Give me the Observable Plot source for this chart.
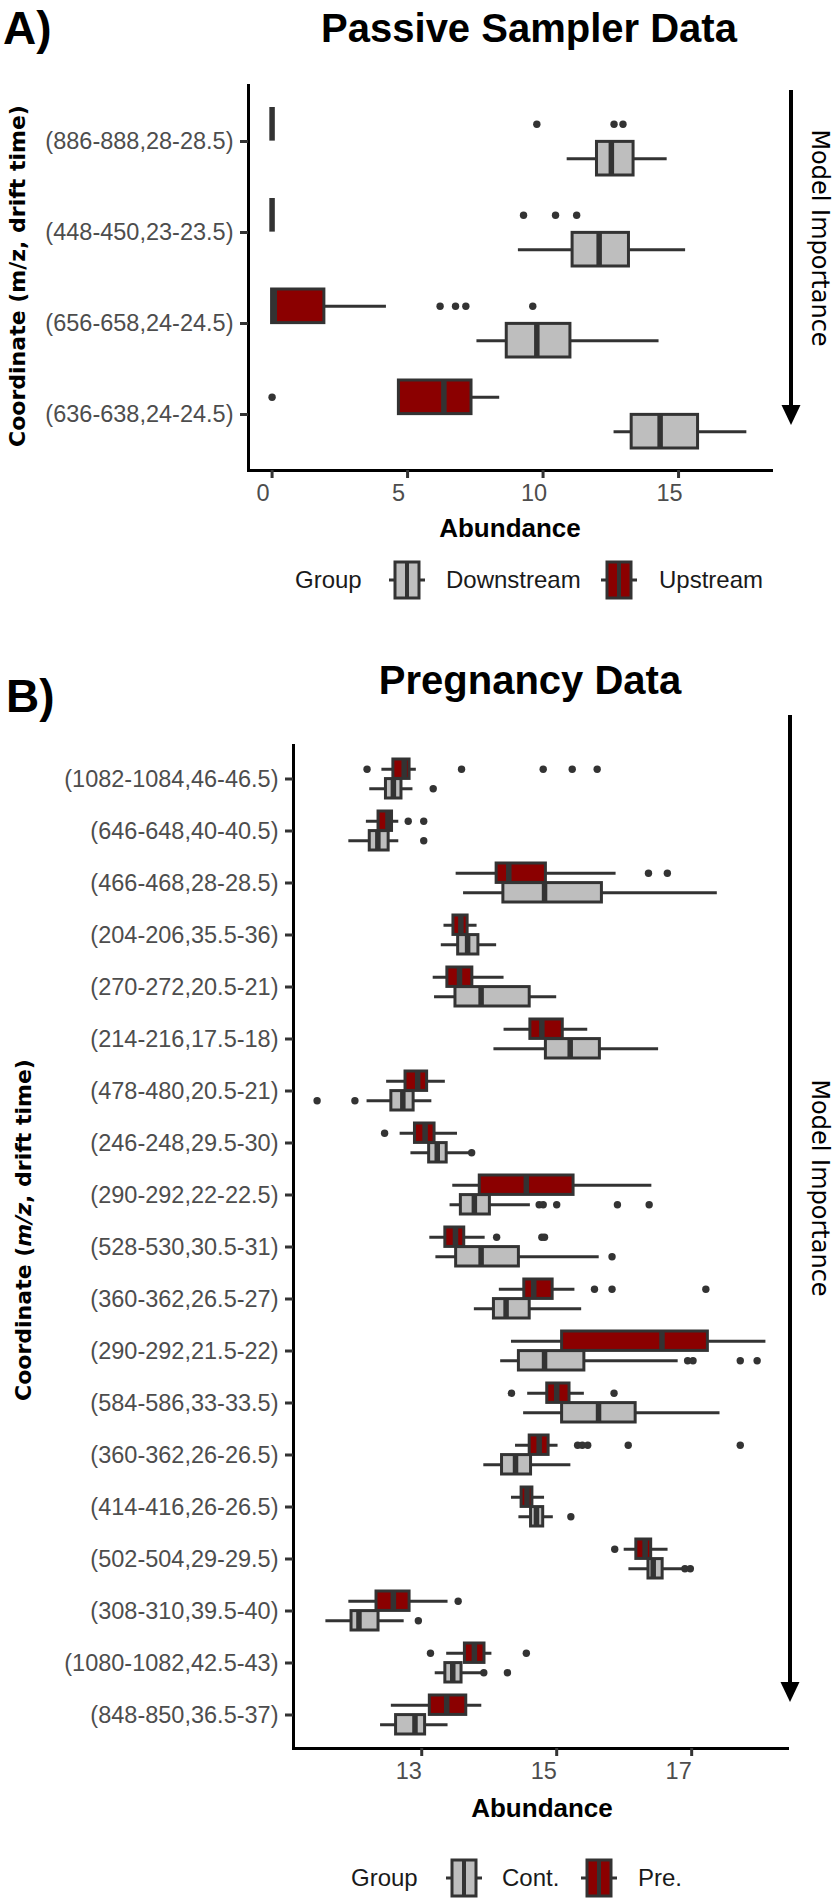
<!DOCTYPE html>
<html>
<head>
<meta charset="utf-8">
<script src="https://cdn.jsdelivr.net/npm/d3@7"></script>
<script src="https://cdn.jsdelivr.net/npm/@observablehq/plot@0.6"></script>
<style>
  body { margin: 0; background: #fff; }
  #root { position: relative; width: 833px; height: 1900px; overflow: hidden; background: #fff; }
  #root > svg { position: absolute; left: 0; }
</style>
</head>
<body>
<div id="root"></div>
<script>
// ---------------- Panel A: Passive Sampler Data ----------------
const catsA = ["(886-888,28-28.5)", "(448-450,23-23.5)", "(656-658,24-24.5)", "(636-638,24-24.5)"];
const groupsA = ["Downstream", "Upstream"];
const colorsA = ["#BEBEBE", "#8B0000"];
const xTicksA = [0, 5, 10, 15];

const downLo  = [10.89, 9.09, 7.56, 12.62];
const downQ1  = [11.99, 11.09, 8.66, 13.27];
const downMed = [12.52, 12.07, 9.77, 14.32];
const downQ3  = [13.34, 13.17, 11.01, 15.72];
const downHi  = [14.58, 15.26, 14.28, 17.52];
const downOut = [[], [], [], []];

const upLo  = [0, 0, 0, 4.68];
const upQ1  = [0, 0, 0, 4.68];
const upMed = [0, 0, 0.08, 6.34];
const upQ3  = [0, 0, 1.93, 7.36];
const upHi  = [0, 0, 4.22, 8.40];
const upOut = [[9.77, 12.62, 12.95], [9.28, 10.46, 11.24], [6.2, 6.77, 7.15, 9.62], [0]];

// ---------------- Panel B: Pregnancy Data ----------------
const catsB = ["(1082-1084,46-46.5)", "(646-648,40-40.5)", "(466-468,28-28.5)", "(204-206,35.5-36)",
  "(270-272,20.5-21)", "(214-216,17.5-18)", "(478-480,20.5-21)", "(246-248,29.5-30)",
  "(290-292,22-22.5)", "(528-530,30.5-31)", "(360-362,26.5-27)", "(290-292,21.5-22)",
  "(584-586,33-33.5)", "(360-362,26-26.5)", "(414-416,26-26.5)", "(502-504,29-29.5)",
  "(308-310,39.5-40)", "(1080-1082,42.5-43)", "(848-850,36.5-37)"];
const groupsB = ["Cont.", "Pre."];
const colorsB = ["#BEBEBE", "#8B0000"];
const xTicksB = [13, 15, 17];

const contLo  = [12.23, 11.92, 13.62, 13.29, 13.19, 14.07, 12.19, 12.84, 13.42, 13.21, 13.78, 14.17, 14.51, 13.92, 14.44, 16.07, 11.58, 13.20, 12.39];
const contQ1  = [12.47, 12.23, 14.21, 13.54, 13.50, 14.84, 12.55, 13.11, 13.58, 13.51, 14.07, 14.44, 15.08, 14.19, 14.62, 16.36, 11.96, 13.35, 12.62];
const contMed = [12.58, 12.35, 14.82, 13.68, 13.88, 15.20, 12.72, 13.23, 13.78, 13.88, 14.25, 14.82, 15.62, 14.39, 14.70, 16.43, 12.07, 13.46, 12.90];
const contQ3  = [12.70, 12.51, 15.67, 13.84, 14.60, 15.64, 12.88, 13.37, 14.01, 14.44, 14.60, 15.41, 16.17, 14.62, 14.80, 16.57, 12.36, 13.59, 13.05];
const contHi  = [12.87, 12.66, 17.38, 14.11, 15.00, 16.51, 13.15, 13.74, 14.61, 15.63, 15.37, 16.80, 17.42, 15.21, 14.95, 16.90, 12.74, 13.92, 13.39];
const contOut = [[13.17], [13.03], [], [], [], [], [11.45, 12.01], [13.74], [14.74, 14.80, 15.0, 15.90, 16.37],
  [15.82], [], [16.94, 17.02, 17.72, 17.97], [], [], [15.21], [16.90, 16.98], [12.95], [13.92, 14.27], []];

const preLo  = [12.41, 12.18, 13.51, 13.33, 13.17, 14.22, 12.48, 12.68, 13.46, 13.12, 14.15, 14.33, 14.57, 14.39, 14.33, 16.00, 11.92, 13.37, 12.55];
const preQ1  = [12.58, 12.36, 14.11, 13.47, 13.38, 14.61, 12.76, 12.90, 13.86, 13.35, 14.52, 15.08, 14.86, 14.60, 14.48, 16.18, 12.33, 13.64, 13.12];
const preMed = [12.74, 12.50, 14.29, 13.58, 13.56, 14.78, 12.94, 13.05, 14.55, 13.50, 14.66, 16.56, 15.00, 14.74, 14.56, 16.31, 12.58, 13.78, 13.37];
const preQ3  = [12.82, 12.56, 14.84, 13.68, 13.75, 15.09, 13.08, 13.19, 15.25, 13.63, 14.94, 17.24, 15.19, 14.88, 14.64, 16.40, 12.82, 13.93, 13.66];
const preHi  = [12.92, 12.66, 15.88, 13.82, 14.22, 15.46, 13.35, 13.53, 16.41, 13.94, 15.27, 18.10, 15.41, 15.02, 14.82, 16.65, 13.39, 14.04, 13.89];
const preOut = [[12.19, 13.59, 14.80, 15.23, 15.60], [12.80, 13.03], [16.36, 16.64], [], [], [], [], [12.45], [],
  [14.11, 14.78, 14.82], [15.56, 15.82, 17.21], [], [14.33, 15.85], [15.31, 15.38, 15.46, 16.06, 17.72], [], [15.86],
  [13.54], [13.13, 14.55], []];

// ---------------- helpers ----------------
const boxTable = (cats, g, lo, q1, med, q3, hi) =>
  cats.map((c, i) => ({cat: c, group: g, lo: lo[i], q1: q1[i], med: med[i], q3: q3[i], hi: hi[i]}));
const outTable = (cats, g, out) => cats.flatMap((c, i) => out[i].map(v => ({cat: c, group: g, v})));

const INK = "#333333";

function panel(o) {
  const pi = 0.25, po = 0.225;
  const step = (o.height - o.marginTop - o.marginBottom) / (o.cats.length - pi + 2 * po);
  const bw = step * (1 - pi), half = bw / 2, off = bw / 4;
  const boxMarks = (data, outs, sgn) => {
    const ins = sgn < 0 ? {insetBottom: half} : {insetTop: half};
    return [
      Plot.ruleY(data, {y: "cat", x1: "lo", x2: "hi", dy: sgn * off, stroke: INK, strokeWidth: 3}),
      Plot.barX(data, {y: "cat", x1: "q1", x2: "q3", fill: "group", stroke: INK, strokeWidth: 3, ...ins}),
      Plot.tickX(data, {y: "cat", x: "med", stroke: INK, strokeWidth: 5.5, ...ins}),
      Plot.dot(outs, {y: "cat", x: "v", dy: sgn * off, r: 3.7, fill: INK, stroke: "none"})
    ];
  };
  const svg = Plot.plot({
    width: 833, height: o.height,
    marginTop: o.marginTop, marginBottom: o.marginBottom, marginLeft: o.marginLeft, marginRight: o.marginRight,
    style: {fontFamily: "'Liberation Sans', Arial, sans-serif", background: "transparent", overflow: "visible"},
    x: {domain: o.xDomain},
    y: {domain: o.cats, paddingInner: pi, paddingOuter: po},
    color: {domain: o.groups, range: o.colors},
    marks: [
      ...boxMarks(o.boxTop, o.outTop, -1),
      ...boxMarks(o.boxBottom, o.outBottom, 1),
      Plot.frame({anchor: "left", stroke: "#000", strokeWidth: 3}),
      Plot.frame({anchor: "bottom", stroke: "#000", strokeWidth: 3}),
      Plot.axisY({tickSize: 8, tickPadding: 7, fontSize: 23.5, stroke: INK, strokeWidth: 3, fill: "#4d4d4d", label: null}),
      Plot.axisX({ticks: o.xTicks, tickSize: 8, stroke: INK, strokeWidth: 3, tickFormat: () => "", label: null}),
      Plot.axisX({ticks: o.xTicks, tickSize: 0, tickPadding: 14, fontSize: 23.5, fill: "#4d4d4d", dx: o.tickDx, tickFormat: d => String(d), label: null})
    ]
  });
  svg.style.top = o.top + "px";
  return svg;
}

const root = document.getElementById("root");

root.appendChild(panel({
  top: 0, height: 520, marginTop: 85, marginBottom: 50, marginLeft: 248, marginRight: 62,
  cats: catsA, groups: groupsA, colors: colorsA, xDomain: [-0.87, 18.43], xTicks: xTicksA, tickDx: -9,
  boxTop: boxTable(catsA, groupsA[1], upLo, upQ1, upMed, upQ3, upHi),
  boxBottom: boxTable(catsA, groupsA[0], downLo, downQ1, downMed, downQ3, downHi),
  outTop: outTable(catsA, groupsA[1], upOut),
  outBottom: outTable(catsA, groupsA[0], downOut)
}));

root.appendChild(panel({
  top: 700, height: 1100, marginTop: 45, marginBottom: 52, marginLeft: 293, marginRight: 46,
  cats: catsB, groups: groupsB, colors: colorsB, xDomain: [11.10, 18.42], xTicks: xTicksB, tickDx: -13,
  boxTop: boxTable(catsB, groupsB[1], preLo, preQ1, preMed, preQ3, preHi),
  boxBottom: boxTable(catsB, groupsB[0], contLo, contQ1, contMed, contQ3, contHi),
  outTop: outTable(catsB, groupsB[1], preOut),
  outBottom: outTable(catsB, groupsB[0], contOut)
}));

// ---------------- annotations overlay ----------------
const SANS = "'Liberation Sans', Arial, sans-serif";
const VERD = "'DejaVu Sans', Verdana, sans-serif";
function key(cx, cy, fill) {
  return `<line x1="${cx - 18}" x2="${cx + 18}" y1="${cy}" y2="${cy}" stroke="${INK}" stroke-width="3"/>
  <rect x="${cx - 12}" y="${cy - 18}" width="24" height="36" fill="${fill}" stroke="${INK}" stroke-width="3"/>
  <line x1="${cx}" x2="${cx}" y1="${cy - 18}" y2="${cy + 18}" stroke="${INK}" stroke-width="4"/>`;
}
function arrow(x, y1, y2) {
  return `<line x1="${x}" x2="${x}" y1="${y1}" y2="${y2 - 18}" stroke="#000" stroke-width="4"/>
  <path d="M${x - 9.5},${y2 - 20} L${x + 9.5},${y2 - 20} L${x},${y2} Z" fill="#000"/>`;
}
const overlay = `
<svg width="833" height="1900" style="top:0" xmlns="http://www.w3.org/2000/svg">
  <text x="3" y="44" font-family="${SANS}" font-weight="bold" font-size="46" fill="#000">A)</text>
  <text x="529" y="42" text-anchor="middle" font-family="${SANS}" font-weight="bold" font-size="40" fill="#000">Passive Sampler Data</text>
  <text transform="translate(17,276) rotate(-90)" text-anchor="middle" dominant-baseline="central" font-family="${VERD}" font-weight="bold" font-size="22" fill="#000">Coordinate (m/z, drift time)</text>
  <text x="510" y="537" text-anchor="middle" font-family="${SANS}" font-weight="bold" font-size="26" fill="#000">Abundance</text>
  ${arrow(791, 90, 425)}
  <text transform="translate(820,238) rotate(90)" text-anchor="middle" dominant-baseline="central" font-family="${VERD}" font-size="24" fill="#000">Model Importance</text>
  <text x="295" y="588" font-family="${SANS}" font-size="24" fill="#1a1a1a">Group</text>
  ${key(407, 580, colorsA[0])}
  <text x="446" y="588" font-family="${SANS}" font-size="24" fill="#1a1a1a">Downstream</text>
  ${key(619, 580, colorsA[1])}
  <text x="659" y="588" font-family="${SANS}" font-size="24" fill="#1a1a1a">Upstream</text>

  <text x="6" y="712" font-family="${SANS}" font-weight="bold" font-size="46" fill="#000">B)</text>
  <text x="530" y="694" text-anchor="middle" font-family="${SANS}" font-weight="bold" font-size="40" fill="#000">Pregnancy Data</text>
  <text transform="translate(23,1230) rotate(-90)" text-anchor="middle" dominant-baseline="central" font-family="${VERD}" font-weight="bold" font-size="22" fill="#000">Coordinate (<tspan font-style="italic">m/z</tspan>, drift time)</text>
  <text x="542" y="1817" text-anchor="middle" font-family="${SANS}" font-weight="bold" font-size="26" fill="#000">Abundance</text>
  ${arrow(790, 715, 1702)}
  <text transform="translate(820,1188) rotate(90)" text-anchor="middle" dominant-baseline="central" font-family="${VERD}" font-size="24" fill="#000">Model Importance</text>
  <text x="351" y="1886" font-family="${SANS}" font-size="24" fill="#1a1a1a">Group</text>
  ${key(464, 1878, colorsB[0])}
  <text x="502" y="1886" font-family="${SANS}" font-size="24" fill="#1a1a1a">Cont.</text>
  ${key(599, 1878, colorsB[1])}
  <text x="638" y="1886" font-family="${SANS}" font-size="24" fill="#1a1a1a">Pre.</text>
</svg>`;
root.insertAdjacentHTML("beforeend", overlay);
</script>
</body>
</html>
